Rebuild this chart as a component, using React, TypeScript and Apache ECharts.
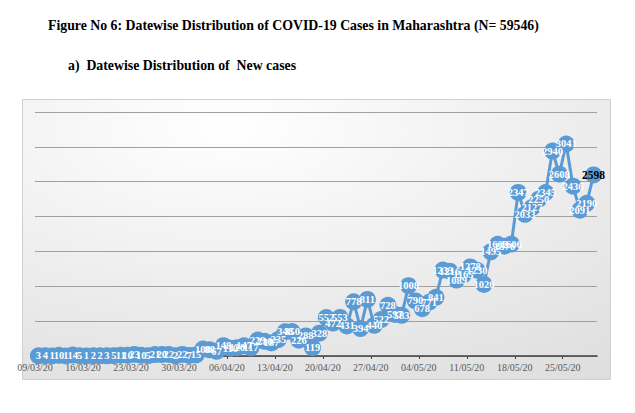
import React, { useEffect, useRef } from "react";
import * as echarts from "echarts";

// Daily new cases, one per day starting 09/03/20 and ending 29/05/20
const startDate = "09/03/20";
const newCases: number[] = [
  3, 4, 1, 10, 1, 14, 5, 1, 2, 2, 3, 5, 11, 10, 23, 10, 5, 21, 20, 22, 2, 22, 7, 15,
  100, 88, 67, 148, 110, 120, 147, 117, 229, 210, 187, 235, 348, 350, 226, 288, 119, 328,
  552, 472, 553, 431, 778, 394, 811, 440, 522, 728, 597, 583, 1008, 790, 678, 771, 841,
  1233, 1216, 1089, 1165, 1278, 1230, 1026, 1495, 1602, 1576, 1606, 2347, 2033, 2127,
  2250, 2345, 2940, 2608, 3041, 2436, 2091, 2190, 2598,
];
const tickLabels: string[] = [
  "09/03/20", "16/03/20", "23/03/20", "30/03/20", "06/04/20", "13/04/20",
  "20/04/20", "27/04/20", "04/05/20", "11/05/20", "18/05/20", "25/05/20",
];
const titleText = "Figure No 6: Datewise Distribution of COVID-19 Cases in Maharashtra (N= 59546)";
const subtitleText = "a)  Datewise Distribution of  New cases";

const SERIF = "Liberation Serif";

export default function App() {
  const ref = useRef<HTMLDivElement>(null);
  useEffect(() => {
    if (!ref.current) return;
    const chart = echarts.init(ref.current, undefined, { renderer: "svg" });
    const last = newCases.length - 1;
    const data = newCases.map((v, i) => {
      const item: any = { value: [i + 0.5, v] };
      if (i === last) {
        item.label = { color: "#000", fontSize: 11.5, fontWeight: "bold" };
      }
      return item;
    });
    chart.setOption({
      animation: false,
      backgroundColor: "#ffffff",
      textStyle: { fontFamily: SERIF },
      title: [
        {
          text: titleText,
          left: 48,
          top: 18,
          padding: 0,
          textStyle: { fontFamily: SERIF, fontSize: 13.8, fontWeight: "bold", color: "#000" },
        },
        {
          text: subtitleText,
          left: 68,
          top: 58,
          padding: 0,
          textStyle: { fontFamily: SERIF, fontSize: 13.8, fontWeight: "bold", color: "#000" },
        },
      ],
      graphic: {
        elements: [
          {
            type: "rect",
            z: -10,
            silent: true,
            shape: { x: 22.5, y: 99.5, width: 588, height: 280 },
            style: {
              fill: new echarts.graphic.RadialGradient(0.35, 0.1, 2, [
                { offset: 0, color: "#ffffff" },
                { offset: 1, color: "#c2c2c2" },
              ]),
              stroke: "#d0d0d0",
              lineWidth: 1,
            },
          },
        ],
      },
      grid: { left: 35, right: 38, top: 112, bottom: 57 },
      xAxis: {
        type: "value",
        min: 0,
        max: newCases.length,
        interval: 7,
        axisLine: { show: true, lineStyle: { color: "#404040", width: 1.5 } },
        axisTick: { show: true, inside: false, length: 3, lineStyle: { color: "#404040" } },
        splitLine: { show: false },
        axisLabel: {
          margin: 6,
          fontFamily: SERIF,
          fontSize: 10,
          color: "#595959",
          showMaxLabel: false,
          formatter: (v: number) => {
            const k = Math.round(v / 7);
            return v % 7 === 0 && tickLabels[k] ? tickLabels[k] : "";
          },
        },
      },
      yAxis: {
        type: "value",
        min: 0,
        max: 3500,
        interval: 500,
        axisLine: { show: false },
        axisTick: { show: false },
        axisLabel: { show: false },
        splitLine: { show: true, lineStyle: { color: "#a0a0a0", width: 1 } },
      },
      series: [
        {
          type: "line",
          name: startDate,
          data,
          symbol: "circle",
          symbolSize: 17,
          itemStyle: { color: "#5b9bd5" },
          lineStyle: { color: "#5b9bd5", width: 3 },
          label: {
            show: true,
            position: "inside",
            color: "#ffffff",
            fontFamily: SERIF,
            fontSize: 10.5,
            fontWeight: "bold",
            formatter: (p: any) => String(p.value[1]),
          },
        },
      ],
    });
    return () => chart.dispose();
  }, []);
  return (
    <div
      ref={ref}
      style={{ position: "fixed", left: 0, top: 0, width: 635, height: 413 }}
    />
  );
}
